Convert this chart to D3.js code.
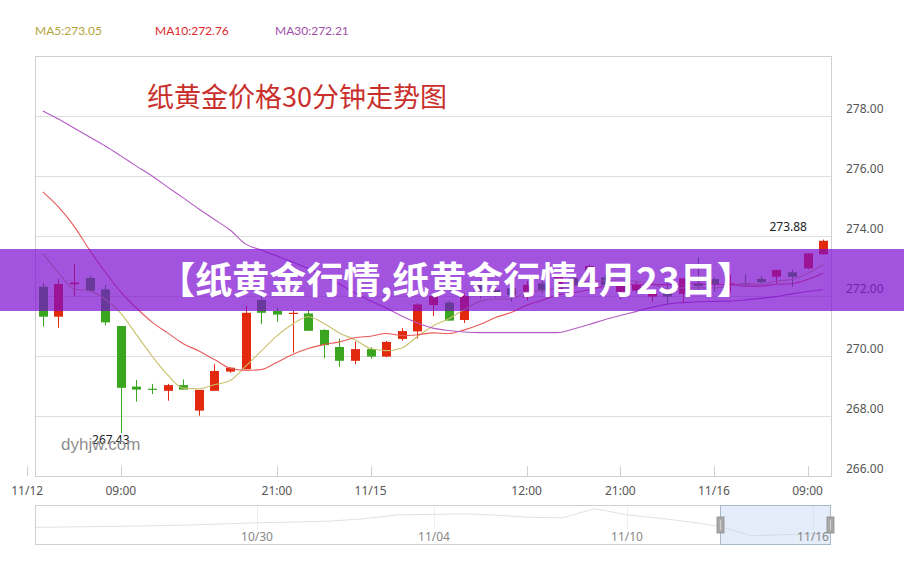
<!DOCTYPE html>
<html><head><meta charset="utf-8">
<script src="https://cdn.jsdelivr.net/npm/d3@7/dist/d3.min.js"></script>
<style>html,body{margin:0;padding:0;background:#fff;} svg{display:block;}</style>
</head><body>
<svg id="c" width="904" height="561"></svg>
<script>
// ---------- data ----------
const opens  = [272.31,271.31,272.39,272.60,272.22,271.00,268.98,268.91,268.84,269.03,268.18,268.84,269.48,269.56,271.87,271.50,271.40,271.42,270.87,270.30,269.84,270.23,269.98,270.57,270.82,271.70,271.78,271.20,272.48,272.20,272.26,271.96,272.42,272.20,272.60,272.76,272.62,272.14,272.18,271.98,272.11,272.07,272.42,272.56,272.38,272.42,272.57,272.64,272.79,272.92,273.39];
const closes = [271.31,272.40,272.45,272.17,271.12,268.94,268.88,268.90,269.03,268.88,268.87,269.50,269.61,271.44,271.44,271.38,271.44,270.84,270.36,269.84,270.23,269.98,270.47,270.83,271.72,272.00,271.18,272.00,272.20,272.10,272.03,272.37,272.20,272.64,272.35,273.00,272.37,272.34,272.37,272.09,271.98,272.59,272.33,272.37,272.42,272.38,272.46,272.87,272.64,273.42,273.84];
const lows   = [270.98,270.94,271.98,272.13,271.02,267.43,268.48,268.73,268.51,268.88,268.01,268.84,269.44,269.56,271.06,271.14,270.11,270.84,269.93,269.64,269.73,269.91,269.96,270.51,270.58,271.33,271.18,271.10,271.92,271.95,271.81,271.85,272.10,272.10,272.20,272.48,272.30,271.89,272.11,271.81,271.70,271.76,272.11,272.14,272.11,272.37,272.42,272.42,272.31,272.89,273.37];
const highs  = [272.44,272.57,273.07,272.68,272.37,271.00,269.20,269.07,269.07,269.22,268.87,269.73,269.63,271.67,272.01,271.61,271.51,271.53,270.89,270.58,270.48,270.29,270.50,270.93,271.76,272.00,271.84,272.10,272.55,272.30,272.31,272.50,272.50,272.70,272.70,273.05,272.70,272.43,272.50,272.20,272.44,272.60,273.29,272.62,272.70,272.72,272.67,272.87,272.87,273.44,273.88];

const ma5  = [273.42,272.78,272.23,272.17,271.89,271.42,270.71,270.00,269.37,268.93,268.91,269.04,269.18,269.66,270.17,270.67,271.06,271.31,271.09,270.77,270.54,270.25,270.18,270.27,270.65,271.00,271.24,271.55,271.82,271.90,271.90,272.14,272.18,272.27,272.32,272.51,272.51,272.54,272.49,272.43,272.23,272.27,272.27,272.27,272.34,272.42,272.39,272.50,272.55,272.75,273.05];
const ma10 = [275.47,274.97,274.33,273.53,272.80,272.13,271.60,271.13,270.77,270.41,270.17,269.88,269.59,269.52,269.55,269.79,270.05,270.25,270.38,270.47,270.61,270.66,270.75,270.68,270.71,270.77,270.75,270.87,271.05,271.28,271.45,271.69,271.86,272.04,272.11,272.21,272.33,272.37,272.39,272.38,272.38,272.39,272.41,272.38,272.39,272.33,272.33,272.39,272.41,272.55,272.76];
const ma30 = [278.17,277.90,277.60,277.30,277.00,276.67,276.33,276.00,275.63,275.27,274.90,274.55,274.20,273.73,273.53,273.33,273.13,272.92,272.67,272.40,272.10,271.83,271.60,271.33,271.10,270.93,270.85,270.80,270.78,270.78,270.78,270.78,270.78,270.78,270.90,271.05,271.21,271.35,271.48,271.62,271.73,271.78,271.81,271.82,271.83,271.87,271.92,271.98,272.07,272.15,272.21];

const xTickIndex  = [-1, 5, 15, 21, 31, 37, 43, 49];
const xTickLabels = ["11/12","09:00","21:00","11/15","12:00","21:00","11/16","09:00"];
const yTicks = [266,268,270,272,274,276,278];

const legendNames  = ["MA5","MA10","MA30"];
const legendValues = [273.05, 272.76, 272.21];

const minLabel = "267.43";
const maxLabel = "273.88";

const shadowDates  = ["2020-10-23","2020-10-24","2020-10-25","2020-10-26","2020-10-27","2020-10-28","2020-10-29","2020-10-30","2020-10-31","2020-11-01","2020-11-02","2020-11-03","2020-11-04","2020-11-05","2020-11-06","2020-11-07","2020-11-08","2020-11-09","2020-11-10","2020-11-11","2020-11-12","2020-11-13","2020-11-14","2020-11-15","2020-11-16","2020-11-16T12:00"];
const shadowValues = [278.2,278.6,279.0,279.4,279.9,280.6,281.6,282.7,283.3,284.2,286.5,290.5,290.8,291.5,290.0,288.0,287.5,296.5,290.3,287.3,283.6,279.1,270.0,271.0,272.2,272.7];
const sliderTickDates  = ["2020-10-30","2020-11-04","2020-11-10","2020-11-16"];
const sliderTickLabels = ["10/30","11/04","11/10","11/16"];
const windowRange = ["2020-11-13","2020-11-16T12:00"];

const titleText  = "纸黄金价格30分钟走势图";
const bannerText = "【纸黄金行情,纸黄金行情4月23日】";
const watermark  = "dyhjw.com";

// ---------- drawing ----------
const RED = "#e2290d", GREEN = "#3aa51e";
const legendColors = ["#b3a43a", "#e0262b", "#a04ea8"];
const lineColors   = ["#c9c06c", "#e85a58", "#b45cc4"];
const svg = d3.select("#c");
const P = {l:35, t:56, r:831, b:476};
const n = opens.length;
const x = d3.scaleLinear().domain([-0.5, n - 0.5]).range([P.l, P.r]);
const y = d3.scaleLinear().domain([266, 280]).range([P.b, P.t]);
const bw = Math.round((x(1) - x(0)) * 0.58);
const UI = "'Noto Sans', 'DejaVu Sans', sans-serif";
const CJK = "'Noto Sans CJK SC', 'Noto Sans', sans-serif";

// legend
svg.selectAll("text.legend").data(legendNames).join("text")
  .attr("class","legend")
  .attr("x", (d,k) => 35 + k * 120).attr("y", 35)
  .attr("fill", (d,k) => legendColors[k])
  .attr("font-family", "Lato, " + UI).attr("font-size", 12)
  .text((d,k) => d + ":" + legendValues[k].toFixed(2));

// grid + frame
svg.selectAll("line.grid").data(yTicks.filter(v => v > 266)).join("line")
  .attr("x1", P.l).attr("x2", P.r)
  .attr("y1", d => Math.round(y(d)) + 0.5).attr("y2", d => Math.round(y(d)) + 0.5)
  .attr("stroke", "#dedede");
svg.append("rect").attr("x", P.l + 0.5).attr("y", P.t + 0.5)
  .attr("width", P.r - P.l).attr("height", P.b - P.t)
  .attr("fill", "none").attr("stroke", "#cdd1d6");

// y labels
svg.selectAll("text.ylab").data(yTicks).join("text")
  .attr("x", 846).attr("y", d => y(d) - 3)
  .attr("fill", "#555").attr("font-family", UI).attr("font-size", 12)
  .text(d => d.toFixed(2));

// x ticks + labels
svg.selectAll("line.xt").data(xTickIndex).join("line")
  .attr("x1", d => Math.round(x(d)) + 0.5).attr("x2", d => Math.round(x(d)) + 0.5)
  .attr("y1", P.b - 10).attr("y2", P.b).attr("stroke", "#cdd1d6");
svg.selectAll("text.xlab").data(xTickIndex).join("text")
  .attr("x", d => x(d)).attr("y", 495).attr("text-anchor", "middle")
  .attr("fill", "#555").attr("font-family", UI).attr("font-size", 12)
  .text((d,k) => xTickLabels[k]);

// title
svg.append("text").attr("x", 147).attr("y", 107)
  .attr("fill", "#c9302c").attr("font-family", CJK).attr("font-size", 27)
  .text(titleText);

// clip
svg.append("clipPath").attr("id","clipP").append("rect")
  .attr("x", P.l).attr("y", P.t).attr("width", P.r - P.l).attr("height", P.b - P.t);
const plotG = svg.append("g").attr("clip-path", "url(#clipP)");

// candles
const cg = plotG.selectAll("g.k").data(d3.range(n)).join("g");
cg.append("line")
  .attr("x1", i => Math.round(x(i)) + 0.5).attr("x2", i => Math.round(x(i)) + 0.5)
  .attr("y1", i => y(highs[i])).attr("y2", i => y(lows[i]))
  .attr("stroke", i => closes[i] >= opens[i] ? RED : GREEN).attr("stroke-width", 1);
cg.append("rect")
  .attr("x", i => Math.round(x(i)) + 0.5 - bw / 2)
  .attr("y", i => y(Math.max(opens[i], closes[i])))
  .attr("width", bw)
  .attr("height", i => Math.max(1.2, Math.abs(y(opens[i]) - y(closes[i]))))
  .attr("fill", i => closes[i] >= opens[i] ? RED : GREEN);

// MA lines
const line = d3.line().x((d,i) => x(i)).y(d => y(d)).curve(d3.curveMonotoneX);
[ma5, ma10, ma30].forEach((arr, k) => {
  plotG.append("path").attr("d", line(arr)).attr("fill", "none")
    .attr("stroke", lineColors[k]).attr("stroke-width", 1.1);
});

// min / max labels
const iMin = d3.minIndex(lows), iMax = d3.maxIndex(highs);
svg.append("text").attr("x", x(iMin) - 10).attr("y", y(lows[iMin]) + 11)
  .attr("text-anchor", "middle").attr("fill", "#222").attr("font-family", UI).attr("font-size", 12)
  .text(minLabel);
svg.append("text").attr("x", x(iMax) - 35).attr("y", y(highs[iMax]) - 9)
  .attr("text-anchor", "middle").attr("fill", "#222").attr("font-family", UI).attr("font-size", 12)
  .text(maxLabel);

// watermark
svg.append("text").attr("x", 61).attr("y", 450)
  .attr("fill", "#8f8f8f").attr("font-family", "'Liberation Sans', Arial, sans-serif").attr("font-size", 17)
  .text(watermark);

// ---------- slider ----------
const pd = d3.isoParse;
const sx = d3.scaleTime()
  .domain([pd(shadowDates[0]), ...sliderTickDates.map(pd), pd(shadowDates[shadowDates.length - 1])])
  .range([35, 257, 434, 627, 813, 830]);
const sy = d3.scaleLinear().domain([262, 300]).range([544, 505]);
const S = {t:505, b:544};
svg.selectAll("line.sg").data(sliderTickDates).join("line")
  .attr("x1", d => Math.round(sx(pd(d))) + 0.5).attr("x2", d => Math.round(sx(pd(d))) + 0.5)
  .attr("y1", S.t).attr("y2", S.t + 24).attr("stroke", "#eeeeee");
svg.append("path")
  .attr("d", d3.line().x((d,i) => sx(pd(shadowDates[i]))).y(d => sy(d))(shadowValues))
  .attr("fill", "none").attr("stroke", "#e2e2e2").attr("stroke-width", 1);
svg.append("rect").attr("x", 35.5).attr("y", S.t + 0.5).attr("width", 795).attr("height", S.b - S.t)
  .attr("fill", "none").attr("stroke", "#d0d0d0");
const w0 = sx(pd(windowRange[0])), w1 = sx(pd(windowRange[1]));
svg.append("rect").attr("x", Math.round(w0) + 0.5).attr("y", S.t + 0.5)
  .attr("width", Math.round(w1 - w0)).attr("height", S.b - S.t)
  .attr("fill", "rgba(190,212,240,0.42)").attr("stroke", "#a8b8c8");
[w0, w1].forEach(v => {
  svg.append("rect").attr("x", Math.round(v) - 3).attr("y", 517).attr("width", 7).attr("height", 16)
    .attr("fill", "#a9a9a9").attr("stroke", "#8c8c8c").attr("stroke-width", 0.8);
  svg.append("line").attr("x1", Math.round(v) + 0.5).attr("x2", Math.round(v) + 0.5)
    .attr("y1", 520).attr("y2", 530).attr("stroke", "#d0d0d0");
});
svg.selectAll("text.sl").data(sliderTickDates).join("text")
  .attr("x", d => sx(pd(d))).attr("y", 541).attr("text-anchor", "middle")
  .attr("fill", "#888").attr("font-family", UI).attr("font-size", 12)
  .text((d,k) => sliderTickLabels[k]);

// ---------- banner overlay ----------
svg.append("rect").attr("x", 0).attr("y", 249).attr("width", 904).attr("height", 62)
  .attr("fill", "rgb(124,11,208)").attr("fill-opacity", 0.7);
svg.append("text").attr("x", 456).attr("y", 294).attr("text-anchor", "middle")
  .attr("fill", "#fff").attr("font-family", CJK).attr("font-weight", 700).attr("font-size", 37)
  .text(bannerText);
</script>
</body></html>
